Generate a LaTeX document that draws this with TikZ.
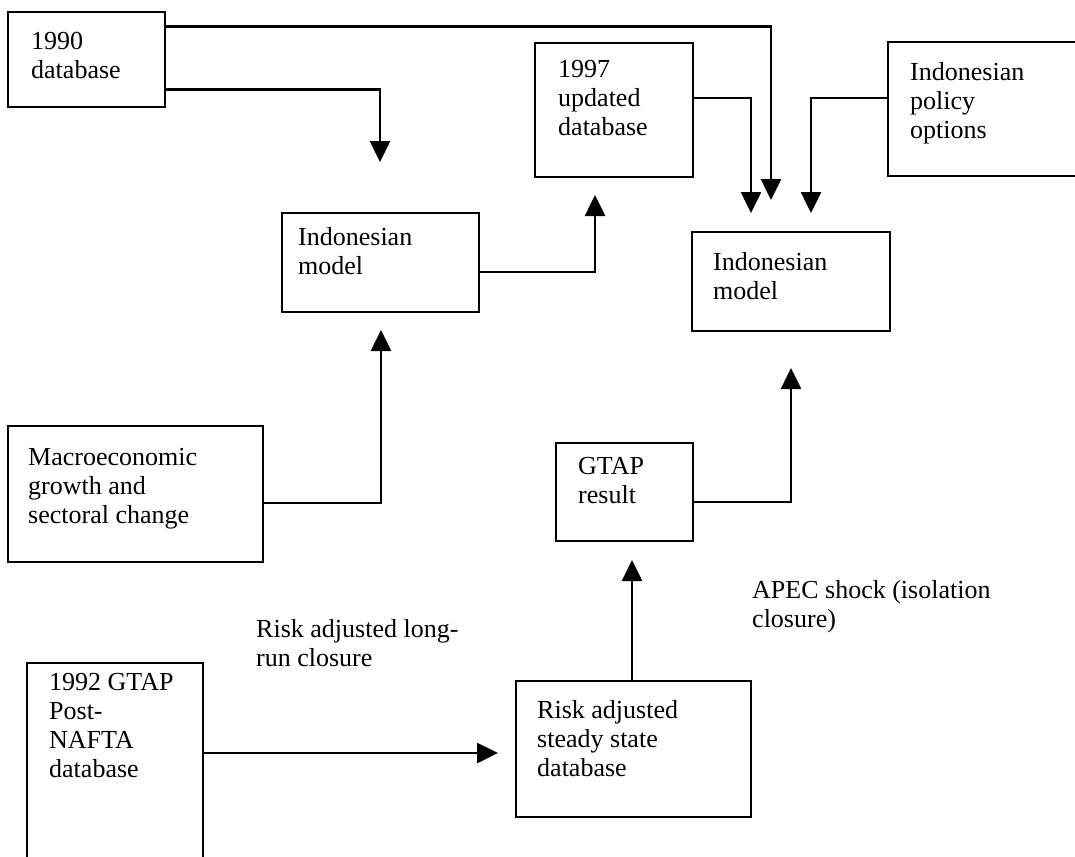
\documentclass[tikz,border=0pt]{standalone}
\usepackage{fontspec}
\setmainfont{Liberation Serif}
\usetikzlibrary{arrows.meta}
\tikzset{
  box/.style={draw=black, line width=2.8pt, rectangle, inner sep=0pt, fill=none},
  txt/.style={font=\fontsize{26}{29}\selectfont, align=left, inner sep=0pt, anchor=north west},
  arr/.style={line width=2.6pt, -{Triangle[length=21pt,width=20pt]}},
}
\begin{document}
\begin{tikzpicture}[x=1pt,y=-1pt]
\clip (0,0) rectangle (1075,856);
\fill[white] (0,0) rectangle (1075,856);
% boxes
\node[box, minimum width=157pt, minimum height=95pt]  (A) at (86.5,59.5) {};
\node[box, minimum width=158pt, minimum height=134pt] (B) at (614,110) {};
\node[box, minimum width=202pt, minimum height=134pt] (C) at (989,109) {};
\node[box, minimum width=197pt, minimum height=99pt]  (D) at (380.5,262.5) {};
\node[box, minimum width=198pt, minimum height=99pt]  (E) at (791,281.5) {};
\node[box, minimum width=255pt, minimum height=136pt] (F) at (135.5,494) {};
\node[box, minimum width=137pt, minimum height=98pt]  (G) at (624.5,492) {};
\node[box, minimum width=176pt, minimum height=217pt] (H) at (115,771.5) {};
\node[box, minimum width=235pt, minimum height=136pt] (I) at (633.5,749) {};
% box texts
\node[txt] (tA) at (31,32)  {1990\\database};
\node[txt] (tB) at (558,60) {1997\\updated\\database};
\node[txt] (tC) at (910,62) {Indonesian\\policy\\options};
\node[txt] (tD) at (298,227) {Indonesian\\model};
\node[txt] (tE) at (713,252) {Indonesian\\model};
\node[txt] (tF) at (28,448) {Macroeconomic\\growth and\\sectoral change};
\node[txt] (tG) at (578,457) {GTAP\\result};
\node[txt] (tH) at (49,673) {1992 GTAP\\Post-\\NAFTA\\database};
\node[txt] (tI) at (537,700) {Risk adjusted\\steady state\\database};
% free labels
\node[txt] (L1) at (256,619) {Risk adjusted long-\\run closure};
\node[txt] (L2) at (752,580) {APEC shock (isolation\\closure)};
% arrow tips
\coordinate (p1) at (771,200);
\coordinate (p2) at (380,162);
\coordinate (p3) at (595,195);
\coordinate (p4) at (751,213);
\coordinate (p5) at (811,213);
\coordinate (p6) at (381,330);
\coordinate (p7) at (791,368);
\coordinate (p8) at (632,560);
\coordinate (p9) at (498,753);
% connectors
\draw[arr] ([yshift=-16pt]A.north east) -| (p1);
\draw[arr] ([yshift=19pt]A.south east) -| (p2);
\draw[arr] ([yshift=-9.5pt]D.east) -| (p3);
\draw[arr] ([yshift=12pt]B.east) -| (p4);
\draw[arr] ([yshift=11pt]C.west) -| (p5);
\draw[arr] ([yshift=-9pt]F.east) -| (p6);
\draw[arr] ([yshift=-10pt]G.east) -| (p7);
\draw[arr] (I.north -| p8) -- (p8);
\draw[arr] (H.east |- p9) -- (p9);
\end{tikzpicture}
\end{document}
